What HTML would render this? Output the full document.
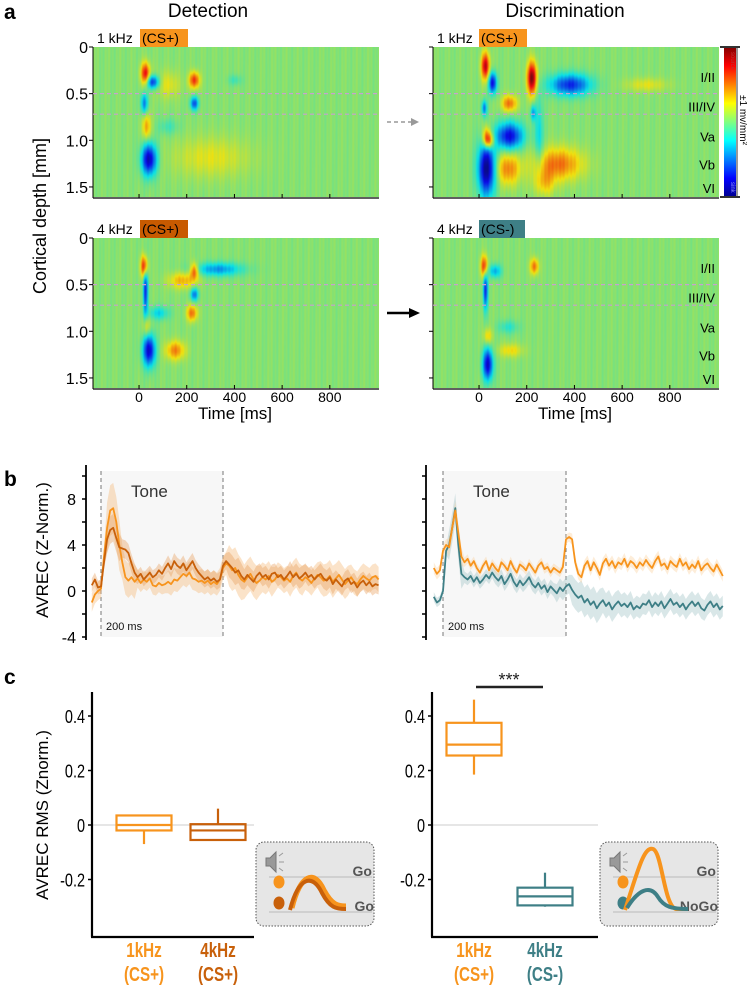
<!DOCTYPE html>
<html><head><meta charset="utf-8">
<style>
html,body{margin:0;padding:0;background:#fff;}
#root{position:relative;width:747px;height:987px;overflow:hidden;font-family:"Liberation Sans",Arial,sans-serif;}
canvas{position:absolute;}
svg{position:absolute;left:0;top:0;}
</style></head>
<body>
<div id="root">
<canvas id="hm0" width="286" height="150" style="left:93px;top:47px"></canvas>
<canvas id="hm1" width="286" height="150" style="left:433px;top:47px"></canvas>
<canvas id="hm2" width="286" height="150" style="left:93px;top:238px"></canvas>
<canvas id="hm3" width="286" height="150" style="left:433px;top:238px"></canvas>
<svg id="svg" width="747" height="987" xmlns="http://www.w3.org/2000/svg">
<defs>
<linearGradient id="jet" x1="0" y1="1" x2="0" y2="0">
<stop offset="0" stop-color="#00008f"/><stop offset="0.125" stop-color="#0000ff"/><stop offset="0.375" stop-color="#00ffff"/><stop offset="0.5" stop-color="#80ff80"/><stop offset="0.625" stop-color="#ffff00"/><stop offset="0.875" stop-color="#ff0000"/><stop offset="1" stop-color="#800000"/>
</linearGradient>
</defs>
<g id="static" font-family="Liberation Sans, Arial, sans-serif">
<text x="4" y="19" font-size="21" font-weight="bold">a</text>
<text x="4" y="486" font-size="21" font-weight="bold">b</text>
<text x="4" y="684" font-size="21" font-weight="bold">c</text>
<text x="208" y="17" font-size="19" text-anchor="middle">Detection</text>
<text x="565" y="17" font-size="19" text-anchor="middle">Discrimination</text>
<text x="97" y="43" font-size="14">1 kHz</text>
<rect x="140" y="29" width="48" height="18" fill="#f7941d"/>
<text x="142" y="43" font-size="14">(CS+)</text>
<text x="97" y="234" font-size="14">4 kHz</text>
<rect x="140" y="220" width="48" height="18" fill="#c85a00"/>
<text x="142" y="234" font-size="14">(CS+)</text>
<text x="437" y="43" font-size="14">1 kHz</text>
<rect x="479" y="29" width="48" height="18" fill="#f7941d"/>
<text x="481" y="43" font-size="14">(CS+)</text>
<text x="437" y="234" font-size="14">4 kHz</text>
<rect x="479" y="220" width="46" height="18" fill="#3e7f86"/>
<text x="481" y="234" font-size="14">(CS-)</text>
<text transform="translate(46,216) rotate(-90)" font-size="18" text-anchor="middle">Cortical depth [mm]</text>
<text x="235" y="419" font-size="17" text-anchor="middle">Time [ms]</text>
<text x="575" y="419" font-size="17" text-anchor="middle">Time [ms]</text>
<line x1="387" y1="122" x2="412" y2="122" stroke="#999" stroke-width="1.5" stroke-dasharray="4,3"/>
<polygon points="411,118 419,122 411,126" fill="#999"/>
<line x1="387" y1="313" x2="410" y2="313" stroke="#000" stroke-width="2.5"/>
<polygon points="409,308 420,313 409,318" fill="#000"/>
<rect x="724" y="47" width="12" height="150" fill="url(#jet)"/>
<line x1="720" y1="47" x2="740" y2="47" stroke="#333" stroke-width="2"/>
<line x1="720" y1="197" x2="740" y2="197" stroke="#333" stroke-width="2"/>
<line x1="737" y1="47" x2="737" y2="197" stroke="#333" stroke-width="1"/>
<text transform="translate(731,52) rotate(90)" font-size="6" fill="#b33">source</text>
<text transform="translate(731,182) rotate(90)" font-size="6" fill="#88f">sink</text>
<text transform="translate(740,95) rotate(90)" font-size="10">±1 mv/mm²</text>
<text transform="translate(48,550) rotate(-90)" font-size="17" text-anchor="middle">AVREC (Z-Norm.)</text>
<text transform="translate(48,815) rotate(-90)" font-size="17" text-anchor="middle">AVREC RMS (Znorm.)</text>
</g>
<g id="dyn"></g>
</svg>
</div>
<script>
// ---------- heatmap data (CSD sources/sinks) ----------
// each blob: [time ms, depth mm, sigma time, sigma depth, amplitude]
const blobsDet1k = [[25,0.28,13,0.08,0.75],[55,0.37,18,0.05,-0.7],[20,0.6,10,0.08,-0.5],[30,0.85,12,0.1,0.4],[40,1.2,22,0.12,-0.9],[230,0.35,15,0.06,0.65],[230,0.6,12,0.05,-0.6],[120,0.4,35,0.1,0.2],[300,1.18,110,0.15,0.2],[120,0.85,30,0.06,-0.15],[400,0.35,20,0.04,-0.15]];
const blobsDis1k = [[25,0.2,12,0.1,0.85],[55,0.38,12,0.08,-0.8],[125,0.6,22,0.06,0.5],[20,0.65,8,0.06,-0.5],[30,0.95,12,0.08,0.5],[40,1.0,15,0.06,0.6],[125,0.95,40,0.1,-0.8],[30,1.3,25,0.2,-1.0],[120,1.3,35,0.12,0.45],[220,0.33,14,0.12,1.0],[225,0.7,8,0.06,-0.4],[380,0.4,60,0.08,-0.7],[330,1.25,70,0.12,0.5],[270,1.45,30,0.1,0.3],[700,0.4,60,0.05,0.2],[250,0.95,12,0.3,-0.3]];
const blobsDet4k = [[20,0.3,10,0.08,0.8],[25,0.55,7,0.2,-0.7],[180,0.45,40,0.06,0.35],[230,0.35,12,0.06,0.6],[230,0.6,12,0.05,-0.5],[330,0.33,70,0.05,-0.45],[220,0.8,15,0.06,0.5],[80,0.8,30,0.05,-0.3],[40,1.2,18,0.12,-0.85],[150,1.2,28,0.07,0.45],[30,0.95,10,0.08,0.3]];
const blobsDis4k = [[20,0.3,10,0.08,0.7],[25,0.55,7,0.15,-0.7],[65,0.35,18,0.05,-0.4],[230,0.3,12,0.06,0.5],[35,1.35,15,0.12,-0.85],[35,1.05,12,0.06,0.3],[130,1.2,35,0.05,0.25],[120,0.95,30,0.05,-0.2]];
const depthTicks = [0,0.5,1.0,1.5];
const depthTickLabels = ["0","0.5","1.0","1.5"];
const timeTicks = [0,200,400,600,800];
const layerNames = ["I/II","III/IV","Va","Vb","VI"];
const layerDepths = [0.32,0.64,0.96,1.26,1.51];
const layerBounds = [0.5,0.72];

// ---------- panel b data ----------
const traceT0 = -15, traceStep = 5;
const det1k = [-1,-0.3,0,0.2,3,5.5,7,7.2,6,4,2.5,1.2,0.9,1.2,0.8,1.1,0.7,1,0.8,1.1,0.5,0.4,0.7,0.5,0.6,0.8,0.6,1.0,0.9,1.2,1.5,1.3,1.6,1.1,1.0,0.8,0.9,0.7,0.9,0.6,0.8,0.6,1.0,2.0,2.4,2.2,1.8,2.0,1.4,1.0,0.8,1.2,1.5,1.0,0.7,0.9,1.2,1.0,1.3,0.8,1.0,1.4,1.2,0.9,1.1,0.8,1.3,1.6,1.1,0.9,1.2,1.0,0.7,1.1,1.4,1.2,0.9,1.0,1.3,0.8,1.1,1.4,1.0,0.6,0.9,1.2,0.8,0.6,1.0,1.3,1.1,0.9,1.2,1.3,1.0];
const det4k = [0.5,1,0.3,0.4,2.5,4.5,5.3,5.5,4.6,3.8,3.7,3.6,3.3,2.4,1.6,1.2,1.5,1.0,1.3,1.6,1.2,1.4,1.8,1.5,2.0,2.4,1.9,2.6,2.2,2.0,2.4,1.8,2.2,2.6,2.0,1.6,1.3,1.0,1.2,0.9,1.1,0.8,1.0,2.2,2.6,2.3,2.0,1.6,1.8,1.3,1.0,1.4,1.1,0.8,1.3,1.6,1.2,1.4,1.0,1.5,1.6,1.2,1.4,1.0,1.3,1.7,1.2,1.5,1.1,1.3,1.6,1.2,1.4,1.0,1.3,1.5,1.1,0.9,1.2,0.6,1.0,0.7,0.4,0.9,1.1,0.6,0.8,0.3,0.7,0.9,0.5,0.8,0.4,0.6,0.5];
const dis1k = [2,1.5,1.8,3.5,4,3.8,5.5,7,5,3,2.5,2.8,2.2,2.6,2.0,1.6,2.2,2.6,1.8,2.4,2.0,1.7,2.5,2.2,1.8,2.6,2.0,1.6,2.3,2.1,1.8,2.4,2.0,1.6,2.2,2.5,1.9,2.1,1.6,2.0,1.8,1.6,2.1,4.5,4.7,4.5,2.5,1.5,1.2,2.2,2.6,1.8,2.5,2.0,1.4,2.4,2.8,2.2,2.6,2.0,2.5,2.3,2.8,2.1,2.6,2.4,2.0,2.5,2.2,2.7,2.3,2.0,2.6,3.0,2.2,2.4,1.9,2.6,2.3,2.1,2.8,2.2,2.5,1.9,2.3,2.0,2.6,1.8,2.2,2.4,2.0,1.7,2.3,1.8,1.3];
const dis4k = [-0.5,-1,-0.8,0,3.5,4,5.5,7.2,4,1.5,1.2,1.0,1.3,0.8,1.2,0.7,1.0,1.4,1.1,1.6,1.2,0.9,1.3,0.6,1.0,1.5,0.8,0.4,0.9,0.5,0.8,1.2,0.6,0.3,0.7,0.2,0.5,-0.1,0.4,0.1,-0.2,0.3,0,0.4,0.6,0.1,-0.3,-0.6,-0.4,-1.0,-0.7,-1.2,-0.9,-1.5,-1.1,-0.8,-1.3,-1.0,-1.6,-1.2,-0.9,-1.3,-1.1,-1.4,-1.0,-1.6,-1.3,-1.5,-1.1,-1.2,-0.8,-1.4,-1.0,-1.3,-0.9,-1.5,-1.1,-0.7,-1.2,-1.0,-1.4,-1.1,-1.6,-1.2,-0.9,-1.3,-1.0,-1.5,-1.7,-1.2,-0.9,-1.4,-1.1,-1.6,-1.3];
const errStep = 25;
const det1kErr = [0.8,2.2,1.5,0.8,0.8,1,1,1,1,1.8,1.5,1.3,1.1,1.3,1.1,1.4,1.3,1.1,1.1];
const det4kErr = [0.6,1.2,0.8,0.6,0.6,0.7,0.7,0.7,0.7,1.1,0.9,0.8,0.8,0.9,0.8,0.9,0.8,0.8,0.8];
const dis1kErr = [0.5,0.8,0.4,0.4,0.4,0.4,0.4,0.4,0.4,0.5,0.5,0.5,0.5,0.5,0.5,0.5,0.5,0.5,0.5];
const dis4kErr = [0.4,1.3,0.5,0.5,0.6,0.6,0.6,0.6,0.8,1.3,1.3,1.1,1.0,0.9,0.9,0.9,0.9,0.9,0.9];
const avrecTicks = [-4,0,4,8];
const avrecMinor = [-2,2,6,10];

// ---------- panel c data ----------
const boxCats = ["1kHz (CS+)","4kHz (CS+)","1kHz (CS+)","4kHz (CS-)"];
const boxQ1 = [-0.02,-0.055,0.255,-0.295];
const boxMed = [0.0,-0.02,0.295,-0.262];
const boxQ3 = [0.035,0.003,0.375,-0.23];
const boxLo = [-0.07,-0.055,0.185,-0.30];
const boxHi = [0.035,0.06,0.46,-0.175];
const rmsTicks = [-0.2,0,0.2,0.4];
const rmsTickLabels = ["-0.2","0","0.2","0.4"];

// ---------- drawing helpers ----------
const NS = "http://www.w3.org/2000/svg";
const dyn = document.getElementById("dyn");
function mk(tag, attrs, parent) {
  const e = document.createElementNS(NS, tag);
  for (const k in attrs) e.setAttribute(k, attrs[k]);
  (parent || dyn).appendChild(e);
  return e;
}
function jet(v) {
  const c = x => Math.max(0, Math.min(1, x));
  return [c(1.5 - Math.abs(4*v-3)), c(1.5 - Math.abs(4*v-2)), c(1.5 - Math.abs(4*v-1))];
}
const hmPxPerMs = 47.7/200, hmT0 = -193, hmPxPerMm = 93.3;
function hmT(px){ return hmT0 + px/hmPxPerMs; }
function hmD(py){ return py/hmPxPerMm; }
function hmX(t){ return (t - hmT0)*hmPxPerMs; }
function hmY(d){ return d*hmPxPerMm; }

function drawHeat(id, blobs) {
  const cv = document.getElementById(id), ctx = cv.getContext("2d");
  const W = cv.width, H = cv.height, img = ctx.createImageData(W, H);
  for (let y = 0; y < H; y++) for (let x = 0; x < W; x++) {
    const t = hmT(x), d = hmD(y);
    let s = 0;
    for (const b of blobs) {
      const dt = (t-b[0])/b[2], dd = (d-b[1])/b[3];
      s += b[4]*Math.exp(-0.5*(dt*dt+dd*dd));
    }
    // subtle vertical streak texture
    s += 0.025*Math.sin(x*1.7) + 0.02*Math.sin(x*0.53 + y*0.02);
    let v = 0.51 + 0.5*s;
    v = Math.max(0, Math.min(1, v));
    const c = jet(v), i = (y*W + x)*4;
    img.data[i] = c[0]*230 + 10; img.data[i+1] = c[1]*215 + 10; img.data[i+2] = c[2]*215 + 15; img.data[i+3] = 255;
  }
  ctx.putImageData(img, 0, 0);
}
drawHeat("hm0", blobsDet1k);
drawHeat("hm1", blobsDis1k);
drawHeat("hm2", blobsDet4k);
drawHeat("hm3", blobsDis4k);

const hmOrigins = [[93,47,true,false],[433,47,false,true],[93,238,true,false],[433,238,false,true]];
hmOrigins.forEach((o, k) => {
  const [ox, oy, showY, showLayers] = o;
  const ax = mk("line", {x1: ox, y1: oy+151, x2: ox+286, y2: oy+151, stroke: "#000", "stroke-width": 1.2});
  
  
  const ay = mk("line", {x1: ox, y1: oy, x2: ox, y2: oy+151, stroke: "#000", "stroke-width": 1});
  
  
  timeTicks.forEach(t => {
    const x = ox + hmX(t);
    const tk = mk("line", {x1: x, y1: oy+151, x2: x, y2: oy+147, stroke: "#000"});
    
    
    if (k >= 2) {
      const tl = mk("text", {x: x, y: oy+164, "font-size": 14, "text-anchor": "middle"});
      tl.textContent = String(t);
      
      
    }
  });
  depthTicks.forEach((d, i) => {
    const y = oy + hmY(d);
    const tk = mk("line", {x1: ox-4, y1: y, x2: ox, y2: y, stroke: "#000"});
    
    
    if (showY) {
      const tl = mk("text", {x: ox-5, y: y+6, "font-size": 16, "text-anchor": "end"});
      tl.textContent = depthTickLabels[i];
      
      
    }
  });
  layerBounds.forEach(d => {
    const ln = mk("line", {x1: ox, y1: oy+hmY(d), x2: ox+286, y2: oy+hmY(d), stroke: "#c8a0d0", "stroke-width": 1.2, "stroke-dasharray": "4,3"});
    
    
  });
  if (showLayers) {
    layerNames.forEach((n, i) => {
      const tl = mk("text", {x: ox+282, y: oy+hmY(layerDepths[i])+5, "font-size": 13, "text-anchor": "end"});
      tl.textContent = n;
      
      
    });
  }
});

// ---------- panel b ----------
function avY(v){ return 591 - v*11.5; }
function drawAvrec(ax0, tx0, pxPerMs, series, errs, colors, bandColors, name) {
  const g = mk("g", {});
  
  
  const tone = mk("rect", {x: tx0, y: 471, width: 200*pxPerMs, height: 166, fill: "#f7f7f7"}, g);
  
  
  [0, 200].forEach(t => {
    const l = mk("line", {x1: tx0+t*pxPerMs, y1: 471, x2: tx0+t*pxPerMs, y2: 637, stroke: "#777", "stroke-dasharray": "4,3"}, g);
    
    
  });
  const tt = mk("text", {x: tx0+30, y: 497, "font-size": 17, fill: "#333"}, g);
  tt.textContent = "Tone";
  
  
  const ms = mk("text", {x: tx0+5, y: 630, "font-size": 11, fill: "#111"}, g);
  ms.textContent = "200 ms";
  
  
  series.forEach((s, si) => {
    const X = i => tx0 + (traceT0 + i*traceStep)*pxPerMs;
    const E = i => errs[si][Math.min(errs[si].length-1, Math.floor((i*traceStep)/errStep))];
    let up = "", dn = "";
    s.forEach((v, i) => { up += (i ? "L" : "M") + X(i).toFixed(1) + "," + avY(v + E(i)).toFixed(1); });
    for (let i = s.length-1; i >= 0; i--) dn += "L" + X(i).toFixed(1) + "," + avY(s[i] - E(i)).toFixed(1);
    const band = mk("path", {d: up + dn + "Z", fill: bandColors[si], opacity: 0.4}, g);
    
    
  });
  series.forEach((s, si) => {
    const X = i => tx0 + (traceT0 + i*traceStep)*pxPerMs;
    let d = "";
    s.forEach((v, i) => { d += (i ? "L" : "M") + X(i).toFixed(1) + "," + avY(v).toFixed(1); });
    const p = mk("path", {d: d, fill: "none", stroke: colors[si], "stroke-width": 1.8, "stroke-linejoin": "round"}, g);
    
    
  });
  const ax = mk("line", {x1: ax0, y1: 465, x2: ax0, y2: 640, stroke: "#000", "stroke-width": 1.8}, g);
  
  
  avrecTicks.concat(avrecMinor).forEach(v => {
    const t = mk("line", {x1: ax0-4, y1: avY(v), x2: ax0, y2: avY(v), stroke: "#000", "stroke-width": 1.5}, g);
    
    
  });
}
drawAvrec(86, 101, 0.61, [det1k, det4k], [det1kErr, det4kErr], ["#f7941d", "#c8600a"], ["#f5b878", "#e8a060"], "avrec-detection");
drawAvrec(426, 443, 0.615, [dis4k, dis1k], [dis4kErr, dis1kErr], ["#3e7f86", "#f7941d"], ["#9fc3c6", "#fbd2a0"], "avrec-discrimination");
avrecTicks.forEach(v => {
  const t = mk("text", {x: 76, y: avY(v)+6, "font-size": 16, "text-anchor": "end"});
  t.textContent = String(v);
  
  
});

// ---------- panel c ----------
function rY(v){ return 825 - v*272.5; }
const boxX = [144, 218, 474, 545];
const boxW = 55;
const boxColors = ["#f7941d", "#c8600a", "#f7941d", "#3e7f86"];
[[92, 254], [432, 598]].forEach((a, k) => {
  const z = mk("line", {x1: a[0], y1: rY(0), x2: a[1], y2: rY(0), stroke: "#e6e6e6", "stroke-width": 2});
  
  
  const ay = mk("line", {x1: a[0], y1: 692, x2: a[0], y2: 937, stroke: "#000", "stroke-width": 2.2});
  
  
  const ax = mk("line", {x1: a[0]-1, y1: 937, x2: a[1], y2: 937, stroke: "#000", "stroke-width": 2.2});
  
  
  rmsTicks.forEach((v, i) => {
    const t = mk("line", {x1: a[0]-4, y1: rY(v), x2: a[0], y2: rY(v), stroke: "#000", "stroke-width": 1.5});
    
    
    const l = mk("text", {x: 0, y: 0, "font-size": 17, "text-anchor": "end", transform: "translate(" + (a[0]-7) + "," + (rY(v)+7) + ") scale(0.85,1.1)"});
    l.textContent = rmsTickLabels[i];
    
    
  });
});
boxCats.forEach((c, i) => {
  const cx = boxX[i], col = boxColors[i];
  const g = mk("g", {stroke: col, "stroke-width": 2.2, fill: "none"});
  
  
  mk("line", {x1: cx, y1: rY(boxHi[i]), x2: cx, y2: rY(boxQ3[i])}, g);
  mk("line", {x1: cx, y1: rY(boxQ1[i]), x2: cx, y2: rY(boxLo[i])}, g);
  mk("rect", {x: cx-boxW/2, y: rY(boxQ3[i]), width: boxW, height: rY(boxQ1[i]) - rY(boxQ3[i])}, g);
  mk("line", {x1: cx-boxW/2, y1: rY(boxMed[i]), x2: cx+boxW/2, y2: rY(boxMed[i])}, g);
  const parts = c.split(" ");
  parts.forEach((p, j) => {
    const t = mk("text", {x: 0, y: 0, "font-size": 19, "font-weight": "bold", fill: col, "text-anchor": "middle", transform: "translate(" + cx + "," + (957 + j*24) + ") scale(0.8,1.05)"});
    t.textContent = p;
    
    
  });
});
const sig = mk("line", {x1: 476, y1: 687, x2: 543, y2: 687, stroke: "#222", "stroke-width": 2.5});


const st = mk("text", {x: 509, y: 686, "font-size": 18, "text-anchor": "middle", fill: "#222"});
st.textContent = "***";



function inset(x0, tall) {
  const g = mk("g", {});
  
  
  mk("rect", {x: x0, y: 842, width: 118, height: 84, rx: 8, fill: "#e6e6e6", stroke: "#555", "stroke-dasharray": "1.5,1.5"}, g);
  mk("path", {d: "M" + (x0+10) + ",858 h4 l6,-6 v20 l-6,-6 h-4z", fill: "#999", stroke: "#777"}, g);
  mk("path", {d: "M" + (x0+23) + ",856 l4,-3 M" + (x0+23) + ",862 h5 M" + (x0+23) + ",868 l4,3", stroke: "#999"}, g);
  mk("line", {x1: x0+13, y1: 877, x2: x0+116, y2: 877, stroke: "#bbb"}, g);
  mk("line", {x1: x0+13, y1: 912, x2: x0+116, y2: 912, stroke: "#bbb"}, g);
  mk("ellipse", {cx: x0+23, cy: 882, rx: 5.5, ry: 6.5, fill: "#f7941d"}, g);
  mk("ellipse", {cx: x0+23, cy: 903, rx: 5.5, ry: 6.5, fill: tall ? "#3e7f86" : "#c8600a"}, g);
  const go1 = mk("text", {x: x0+116, y: 876, "font-size": 14, "font-weight": "bold", fill: "#555", "text-anchor": "end"}, g);
  go1.textContent = "Go";
  const go2 = mk("text", {x: x0+118, y: 911, "font-size": 14, "font-weight": "bold", fill: "#555", "text-anchor": "end"}, g);
  go2.textContent = tall ? "NoGo" : "Go";
  if (!tall) {
    mk("path", {d: "M" + (x0+36) + ",908 C" + (x0+44) + ",875 " + (x0+58) + ",868 " + (x0+68) + ",890 C" + (x0+76) + ",905 " + (x0+82) + ",906 " + (x0+90) + ",906", stroke: "#f7941d", "stroke-width": 5, fill: "none"}, g);
    mk("path", {d: "M" + (x0+34) + ",910 C" + (x0+42) + ",878 " + (x0+56) + ",872 " + (x0+66) + ",893 C" + (x0+74) + ",908 " + (x0+80) + ",909 " + (x0+90) + ",909", stroke: "#c8600a", "stroke-width": 4, fill: "none"}, g);
  } else {
    mk("path", {d: "M" + (x0+25) + ",910 C" + (x0+38) + ",870 " + (x0+44) + ",846 " + (x0+53) + ",849 C" + (x0+62) + ",852 " + (x0+64) + ",906 " + (x0+76) + ",909 L" + (x0+88) + ",909", stroke: "#f7941d", "stroke-width": 4, fill: "none"}, g);
    mk("path", {d: "M" + (x0+27) + ",908 C" + (x0+38) + ",890 " + (x0+50) + ",884 " + (x0+58) + ",897 C" + (x0+64) + ",907 " + (x0+72) + ",909 " + (x0+88) + ",909", stroke: "#3e7f86", "stroke-width": 4, fill: "none"}, g);
  }
}
inset(256, false);
inset(600, true);
</script>
</body></html>
